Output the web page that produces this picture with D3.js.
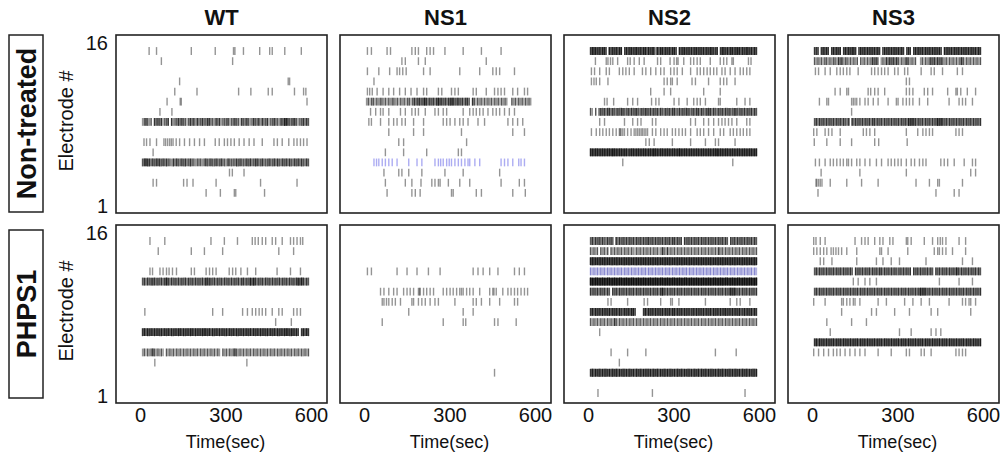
<!DOCTYPE html>
<html>
<head>
<meta charset="utf-8">
<script src="https://cdn.jsdelivr.net/npm/d3@7"></script>
<style>
  body { margin: 0; background: #fff; }
  svg { font-family: "Liberation Sans", Arial, sans-serif; }
</style>
</head>
<body>
<svg id="chart" width="1001" height="462"></svg>
<script>
let genotypes = ["WT", "NS1", "NS2", "NS3"];
let treatments = ["Non-treated", "PHPS1"];
let timeTicks = [0, 300, 600];
let electrodeTicks = [1, 16];

// each row: [electrode, spike times in sec] or [electrode, spike counts per 6 s bin (100 bins)]
let wtCtrl = [
  [16, [32, 58, 180, 264, 328, 333, 363, 420, 455, 464, 508, 566]],
  [15, [75, 325]],
  [13, [139, 520, 525]],
  [12, [122, 200, 346, 389, 450, 464, 542, 574, 582]],
  [11, [95, 141, 145, 586]],
  [10, [70, 112]],
  [9, "0123212032 3231223031 2232322123 2313223223 3221323122 2312232213 2232123223 1322312232 2132443223 3212232320"],
  [7, [14, 23, 35, 58, 84, 90, 97, 104, 110, 116, 127, 139, 156, 174, 191, 209, 226, 264, 278, 296, 307, 319, 331, 348, 365, 383, 400, 429, 470, 482, 499, 522, 540, 551, 563, 574, 586]],
  [6, [46]],
  [5, "0234332323 3323232213 2322323223 2212221232 2322322322 1322223232 2232322332 2322232232 3223232322 3232322320"],
  [4, [314, 324, 365]],
  [3, [46, 58, 153, 165, 186, 267, 423, 551]],
  [2, [232, 282, 331, 336, 437]]
];
let ns1Ctrl = [
  [16, [12, 26, 81, 93, 168, 180, 191, 220, 232, 244, 284, 348, 412, 481]],
  [15, [133, 145, 191, 215, 429]],
  [14, [12, 52, 90, 116, 125, 136, 148, 209, 232, 336, 406, 452, 464, 476, 528]],
  [13, [35]],
  [12, [12, 20, 29, 46, 67, 87, 104, 125, 145, 165, 186, 209, 220, 261, 273, 307, 319, 331, 383, 394, 429, 458, 470, 481, 493, 522, 539, 563, 574]],
  [11, "0121221212 2121212212 1212122123 2332343232 3234332323 3432332323 3203212121 2121212121 2121002121 2121212100"],
  [10, [23, 41, 58, 67, 87, 128, 145, 168, 180, 191, 215, 249, 261, 278, 290, 348, 371, 383, 394, 406, 418, 435, 452, 464, 476, 493, 510, 528]],
  [9, [17, 26, 58, 87, 104, 116, 133, 145, 174, 209, 278, 290, 302, 319, 336, 348, 365, 400, 423, 505, 522, 539, 557]],
  [8, [87, 174, 209, 342, 522, 563]],
  [7, [122, 139, 360]],
  [6, [75, 139, 220, 331, 342]],
  [5, [35, 44, 52, 64, 75, 87, 99, 116, 157, 186, 203, 249, 261, 269, 278, 290, 299, 307, 319, 331, 342, 354, 365, 371, 389, 406, 481, 493, 505, 522, 543, 551, 563]],
  [4, [70, 122, 133, 157, 203, 284, 348, 476]],
  [3, [75, 145, 168, 200, 238, 249, 261, 267, 296, 336, 371, 481, 545, 563]],
  [2, [81, 168, 180, 197, 307, 313, 394, 412, 522, 566]]
];
let ns2Ctrl = [
  [16, "0344434344 3043434344 0343443443 4344343441 4344343434 4304344343 4344343434 3443340344 3434434443 4344343430"],
  [15, [26, 64, 70, 79, 87, 104, 139, 148, 162, 180, 197, 244, 255, 288, 302, 311, 316, 336, 360, 371, 383, 394, 429, 464, 476, 487, 505, 510, 563, 572]],
  [14, [12, 23, 41, 64, 75, 110, 122, 133, 145, 162, 191, 203, 220, 238, 255, 267, 290, 302, 313, 331, 360, 383, 394, 406, 418, 429, 441, 452, 470, 481, 499, 516, 534, 545, 557, 568]],
  [13, [12, 21, 29, 41, 70, 267, 278, 290, 296, 313, 365, 377, 423, 464, 476, 487, 516]],
  [12, [220, 267, 290, 406, 464]],
  [11, [58, 67, 90, 139, 157, 174, 223, 238, 249, 302, 319, 348, 371, 383, 394, 412, 458, 464, 522, 551, 568]],
  [10, "0210202323 2332322323 3223232332 2323323232 3232232323 3223232332 2323323223 3323223232 3232233223 2323232320"],
  [9, [41, 58, 128, 157, 174, 186, 226, 238, 360, 377, 406, 423, 441, 458, 470, 481, 493, 505, 522, 557, 568]],
  [8, [12, 29, 41, 52, 64, 75, 87, 99, 110, 113, 116, 122, 128, 139, 151, 162, 168, 174, 180, 186, 191, 197, 203, 209, 226, 238, 255, 267, 278, 296, 307, 319, 331, 342, 360, 383, 394, 406, 423, 441, 464, 476, 499, 510, 522, 534, 545, 557, 568]],
  [7, [203, 215, 232, 296, 360, 412, 447, 458, 516]],
  [6, "0444444444 4444544444 4443444444 4444444454 4444444444 4445444444 4444444444 4444454444 4444444444 4444444440"],
  [5, [122, 508]]
];
let ns3Ctrl = [
  [16, "0333034343 0343434034 3434430343 4343434343 0343434343 4343034303 4343434343 4343430434 3434343434 3434343430"],
  [15, "0212121221 2122132312 2121212021 2121232320 1213232323 2121232121 2001212123 2323232121 2121212321 2121212120"],
  [14, [12, 23, 46, 64, 87, 99, 110, 122, 133, 162, 209, 220, 232, 244, 255, 267, 290, 302, 325, 336, 383, 418, 429, 458, 510, 528]],
  [13, [331, 342]],
  [12, [81, 99, 122, 128, 197, 206, 220, 232, 255, 331, 342, 354, 394, 406, 423, 476, 505, 510, 522, 545, 574]],
  [11, [26, 52, 58, 139, 145, 151, 157, 168, 186, 197, 215, 232, 267, 296, 302, 319, 331, 342, 354, 377, 406, 481, 516, 528, 539, 563]],
  [10, [139]],
  [9, "0232323232 3232323232 2303232323 2323233232 3232323232 3232324343 3232323232 3234343232 3232323232 3232323230"],
  [8, [6, 17, 46, 58, 70, 99, 180, 191, 203, 220, 331, 371, 389, 400, 412, 423, 505, 516, 528]],
  [7, [8, 52, 99, 139, 220, 234, 334]],
  [5, [12, 26, 46, 64, 75, 87, 99, 110, 122, 128, 139, 157, 168, 186, 203, 226, 244, 267, 278, 290, 302, 313, 331, 348, 360, 377, 389, 400, 452, 464, 476, 499, 534, 563, 574]],
  [4, [32, 168, 331, 557, 574]],
  [3, [14, 17, 23, 29, 35, 64, 122, 174, 232, 365, 412, 441, 447, 528]],
  [2, [21, 435, 499, 516]]
];
let wtPhps = [
  [16, [35, 87, 249, 296, 342, 394, 404, 415, 429, 441, 464, 476, 499, 528, 539, 551, 563, 571]],
  [15, [64, 180, 226, 290, 487, 539]],
  [13, [35, 44, 70, 81, 93, 102, 114, 128, 180, 191, 232, 244, 255, 267, 313, 325, 336, 354, 377, 406, 481, 528, 563]],
  [12, "0232323332 3232343232 3232323232 3232323243 3323232323 2323232323 3232434323 2323232323 2323232323 2343432320"],
  [9, [17, 255, 290, 360, 377, 394, 406, 418, 429, 441, 464, 487, 499, 539, 551, 563]],
  [8, [476, 531]],
  [7, "0343434343 4343434343 4344343434 4343434443 4343434343 4343434343 4343434343 4343434343 4343444344 3430343430"],
  [5, "0121212321 2121021212 1212121212 1212121212 1212121021 2121232121 2121212121 2121212121 2121212121 2121212120"],
  [4, [52, 375]]
];
let ns1Phps = [
  [13, [12, 26, 116, 151, 186, 226, 267, 383, 400, 418, 441, 470, 528, 545, 563]],
  [11, [58, 70, 87, 104, 116, 139, 151, 162, 174, 191, 195, 197, 209, 220, 232, 244, 278, 290, 302, 313, 325, 336, 342, 348, 360, 371, 383, 406, 441, 452, 456, 464, 487, 505, 516, 528, 539, 551, 563, 574]],
  [10, [64, 70, 79, 87, 99, 110, 128, 168, 174, 191, 203, 215, 232, 249, 261, 319, 383, 394, 412, 441, 476, 528, 539]],
  [9, [157, 348, 383]],
  [8, [64, 278, 348, 357, 458, 470, 534]],
  [3, [458]]
];
let ns2Phps = [
  [16, "0232323232 2323203232 3232323232 3232332323 2323232323 3232303232 3232323232 3232323232 3203232323 2323232320"],
  [15, "0212120212 1202121212 1212121121 2121212121 2113213121 2121212121 2121212121 2121213121 2121212121 2121212120"],
  [14, "0444444444 4444444444 4444444444 4444444444 4444444444 4444444444 4444444444 4444444444 4444444444 4444444440"],
  [13, "0212121212 1212121212 1212121212 1212121212 1212121212 1212121212 1212121212 1212121212 1212121212 1212121210"],
  [12, "0555555555 5555555555 5555555555 5555555555 5555555555 5555555555 5555555555 5555555555 5555555555 5555555550"],
  [11, "0323232323 2320323232 3232323232 3232323232 3234323232 3232323232 3232323232 3232323232 3234343232 3232323230"],
  [10, [70, 81, 139, 197, 209, 255, 290, 296, 319, 412, 499, 522, 534, 568]],
  [9, "0343434343 4343434343 3434344300 0034343434 3434343434 4343434343 3434343434 3434343434 4343434343 3434343430"],
  [8, "0212121212 1212132121 2121212121 2121212121 2121212121 2121212121 2121212121 2121212121 2121212121 2121212120"],
  [7, [41]],
  [5, [81, 139, 203, 447, 520]],
  [4, [110]],
  [3, "0343434343 4343434343 4343434343 4343434343 4343434343 4343434343 4343434343 4343434343 4343434343 4343434340"],
  [1, [35, 226, 551]]
];
let ns3Phps = [
  [16, [6, 14, 29, 46, 151, 174, 186, 197, 220, 238, 249, 273, 284, 331, 336, 348, 394, 423, 441, 450, 458, 470, 516, 539]],
  [15, [6, 17, 29, 41, 52, 67, 75, 84, 93, 104, 122, 157, 238, 244, 267, 336, 429, 441, 447, 458, 470, 493, 539]],
  [14, [29, 41, 70, 157, 226, 249, 278, 307, 400, 528, 563]],
  [13, "0232323232 3232323232 3232032323 2323232323 3232323232 2323232303 2323232323 2032323232 3232432323 2323232320"],
  [12, [145, 162, 186, 203, 226, 447, 516, 563]],
  [11, "0232323232 3232323232 3232323232 3232323232 3232323232 3232323232 3234343232 3232323232 3232323232 3232323230"],
  [10, [6, 46, 104, 110, 122, 133, 145, 151, 168, 232, 261, 325, 354, 383, 412, 481, 528, 539, 551, 557, 574]],
  [9, [104, 209, 226, 290, 342, 418, 441, 557]],
  [8, [52, 139, 191]],
  [7, [64, 307, 348, 418, 435, 452]],
  [6, "0343434343 4343434343 4343434343 4343434343 4343434343 4343434343 4343434343 4343434343 4343434343 4343434340"],
  [5, [6, 23, 41, 58, 75, 87, 99, 116, 133, 151, 168, 186, 232, 278, 331, 342, 383, 394, 418, 505, 516, 528, 539]]
];
let panelData = [
  [wtCtrl, ns1Ctrl, ns2Ctrl, ns3Ctrl],
  [wtPhps, ns1Phps, ns2Phps, ns3Phps]
];
// rows drawn in blue: [genotype, treatment, electrode, colour]
let blueRows = [["NS1", "Non-treated", 5, "#3a3ae0"], ["NS2", "PHPS1", 13, "#4a4ab8"]];

let binSec = 6;

function toSpikes(rows) {
  let out = [];
  rows.forEach(function(r) {
    if (typeof r[1] === "string") {
      r[1].replace(/ /g, "").split("").forEach(function(c, i) {
        for (let k = 0; k < +c; k++) out.push({e: r[0], t: i * binSec + binSec / 2});
      });
    } else {
      r[1].forEach(function(t) { out.push({e: r[0], t: t}); });
    }
  });
  return out;
}

let colX = [116, 340, 564, 788];
let rowY = [35, 225];
let panelW = 211, panelH = 178;
let boxY = [35, 230], boxH = [177, 168];

let svg = d3.select("#chart");

genotypes.forEach(function(g, c) {
  svg.append("text")
    .attr("x", colX[c] + panelW / 2).attr("y", 25)
    .attr("text-anchor", "middle")
    .style("font-size", "22px").style("font-weight", "bold").attr("fill", "#111")
    .text(g);
});

treatments.forEach(function(tr, r) {
  svg.append("rect")
    .attr("x", 9).attr("y", boxY[r]).attr("width", 34).attr("height", boxH[r])
    .attr("fill", "none").attr("stroke", "#222").attr("stroke-width", 1.5);
  svg.append("text")
    .attr("transform", "translate(27," + (boxY[r] + boxH[r] / 2) + ") rotate(-90)")
    .attr("text-anchor", "middle").attr("dominant-baseline", "central")
    .style("font-size", "27px").style("font-weight", "bold").attr("fill", "#111")
    .text(tr);
  svg.append("text")
    .attr("transform", "translate(66," + (rowY[r] + panelH / 2 - 3) + ") rotate(-90)")
    .attr("text-anchor", "middle").attr("dominant-baseline", "central")
    .style("font-size", "20px").attr("fill", "#111")
    .text("Electrode #");
});

for (let r = 0; r < 2; r++) {
  for (let c = 0; c < 4; c++) {
    let x = d3.scaleLinear().domain([0, 600]).range([24, panelW - 16]);
    let y = d3.scaleLinear().domain([1, 16]).range([168, 16]);
    let g = svg.append("g").attr("transform", "translate(" + colX[c] + "," + rowY[r] + ")");

    let colourOf = {};
    blueRows.forEach(function(b) {
      if (b[0] === genotypes[c] && b[1] === treatments[r]) colourOf[b[2]] = b[3];
    });

    g.selectAll("line.spike")
      .data(toSpikes(panelData[r][c]))
      .enter().append("line")
        .attr("class", "spike")
        .attr("x1", function(d) { return x(d.t); })
        .attr("x2", function(d) { return x(d.t); })
        .attr("y1", function(d) { return y(d.e) - 3.9; })
        .attr("y2", function(d) { return y(d.e) + 3.9; })
        .attr("stroke", function(d) { return colourOf[d.e] || "#000"; })
        .attr("stroke-width", 1.4)
        .attr("stroke-opacity", 0.42);

    g.append("rect")
      .attr("width", panelW).attr("height", panelH)
      .attr("fill", "none").attr("stroke", "#222").attr("stroke-width", 1.6);

    if (c === 0) {
      let yl = d3.scaleLinear().domain([1, 16]).range([171, 8]);
      let ax = g.append("g").call(d3.axisLeft(yl).tickValues(electrodeTicks).tickSize(0).tickPadding(8));
      ax.select(".domain").remove();
      ax.attr("font-size", 20).attr("font-family", null).selectAll("text").attr("fill", "#111");
    }
    if (r === 1) {
      let ax = g.append("g").attr("transform", "translate(0," + panelH + ")")
        .call(d3.axisBottom(x).tickValues(timeTicks).tickSize(0).tickPadding(5));
      ax.select(".domain").remove();
      ax.attr("font-size", 20).attr("font-family", null).selectAll("text").attr("fill", "#111");
      g.append("text")
        .attr("x", x(300)).attr("y", panelH + 45)
        .attr("text-anchor", "middle")
        .style("font-size", "18px").attr("fill", "#111")
        .text("Time(sec)");
    }
  }
}
</script>
</body>
</html>
